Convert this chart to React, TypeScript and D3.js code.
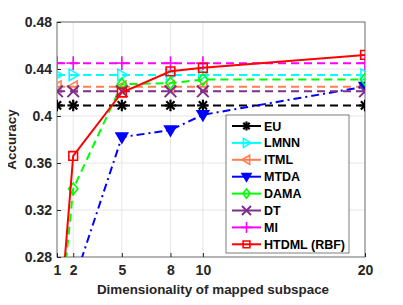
import React, { useEffect, useRef } from "react";
import * as d3 from "d3";

const DIMS = [1, 2, 5, 8, 10, 20];
const X_TICKS = [1, 2, 5, 8, 10, 20];
const Y_TICKS = [0.28, 0.32, 0.36, 0.4, 0.44, 0.48];

const EU = [0.409, 0.409, 0.409, 0.409, 0.409, 0.409];
const LMNN = [0.435, 0.435, 0.435, 0.435, 0.435, 0.435];
const ITML = [0.425, 0.425, 0.425, 0.425, 0.425, 0.425];
const MTDA = [0.22, 0.257, 0.382, 0.388, 0.401, 0.425];
const DAMA = [0.2, 0.338, 0.427, 0.428, 0.431, 0.431];
const DT = [0.421, 0.421, 0.421, 0.421, 0.421, 0.421];
const MI = [0.445, 0.445, 0.445, 0.445, 0.445, 0.445];
const HTDML = [0.197, 0.366, 0.42, 0.438, 0.441, 0.452];

const SERIES = [
  { name: "EU", values: EU, color: "#000000", marker: "star", dash: "8,5" },
  { name: "LMNN", values: LMNN, color: "#00ffff", marker: "tri-right", dash: "8,5" },
  { name: "ITML", values: ITML, color: "#ff7f50", marker: "tri-left", dash: "8,5" },
  { name: "MTDA", values: MTDA, color: "#0000ff", marker: "tri-down", dash: "8,4,2,4" },
  { name: "DAMA", values: DAMA, color: "#00ff00", marker: "diamond", dash: "8,5" },
  { name: "DT", values: DT, color: "#7e2f8e", marker: "x", dash: "8,5" },
  { name: "MI", values: MI, color: "#ff00ff", marker: "plus", dash: "8,5" },
  { name: "HTDML (RBF)", values: HTDML, color: "#ff0000", marker: "square", dash: null },
];

function drawMarker(g, kind, cx, cy, color, s) {
  const m = g.append("g").attr("transform", `translate(${cx},${cy})`);
  const st = (sel) => sel.attr("stroke", color).attr("stroke-width", 1.6);
  if (kind === "star") {
    [0, 45, 90, 135].forEach((a) => {
      const r = (a * Math.PI) / 180;
      st(m.append("line"))
        .attr("x1", -s * Math.cos(r)).attr("y1", -s * Math.sin(r))
        .attr("x2", s * Math.cos(r)).attr("y2", s * Math.sin(r))
        .attr("stroke-width", 2.2);
    });
  } else if (kind === "plus") {
    st(m.append("line")).attr("x1", -s - 1).attr("x2", s + 1).attr("y1", 0).attr("y2", 0);
    st(m.append("line")).attr("y1", -s - 1).attr("y2", s + 1).attr("x1", 0).attr("x2", 0);
  } else if (kind === "x") {
    st(m.append("line")).attr("x1", -s).attr("y1", -s).attr("x2", s).attr("y2", s).attr("stroke-width", 2);
    st(m.append("line")).attr("x1", -s).attr("y1", s).attr("x2", s).attr("y2", -s).attr("stroke-width", 2);
  } else {
    let pts;
    if (kind === "tri-right") pts = [[-s * 0.7, -s], [s, 0], [-s * 0.7, s]];
    else if (kind === "tri-left") pts = [[s * 0.7, -s], [-s, 0], [s * 0.7, s]];
    else if (kind === "tri-down") pts = [[-s, -s * 0.7], [s, -s * 0.7], [0, s]];
    else if (kind === "diamond") pts = [[0, -s], [s * 0.8, 0], [0, s], [-s * 0.8, 0]];
    else pts = [[-s * 0.75, -s * 0.75], [s * 0.75, -s * 0.75], [s * 0.75, s * 0.75], [-s * 0.75, s * 0.75]];
    st(m.append("polygon"))
      .attr("points", pts.map((p) => p.join(",")).join(" "))
      .attr("fill", kind === "tri-down" ? color : "none")
      .attr("stroke-linejoin", "miter");
  }
}

export default function App() {
  const ref = useRef(null);

  useEffect(() => {
    const svg = d3.select(ref.current);
    svg.selectAll("*").remove();

    const margin = { top: 22, right: 38, bottom: 48, left: 57 };
    const width = 403 - margin.left - margin.right;
    const height = 305 - margin.top - margin.bottom;
    const font = "'Liberation Sans', Arial, sans-serif";

    const x = d3.scaleLinear().domain([1, 20]).range([0, width]);
    const y = d3.scaleLinear().domain([0.28, 0.48]).range([height, 0]);

    const g = svg.append("g").attr("transform", `translate(${margin.left},${margin.top})`);

    // grid
    g.append("g")
      .selectAll("line")
      .data(X_TICKS)
      .enter()
      .append("line")
      .attr("x1", (d) => x(d)).attr("x2", (d) => x(d))
      .attr("y1", 0).attr("y2", height)
      .attr("stroke", "#e6e6e6");
    g.append("g")
      .selectAll("line")
      .data(Y_TICKS)
      .enter()
      .append("line")
      .attr("y1", (d) => y(d)).attr("y2", (d) => y(d))
      .attr("x1", 0).attr("x2", width)
      .attr("stroke", "#e6e6e6");

    // axes
    const xAxis = g.append("g")
      .attr("transform", `translate(0,${height})`)
      .call(d3.axisBottom(x).tickValues(X_TICKS).tickSize(-4).tickPadding(8).tickFormat(d3.format("d")));
    const yAxis = g.append("g")
      .call(d3.axisLeft(y).tickValues(Y_TICKS).tickSize(-4).tickPadding(5).tickFormat((d) => String(+d.toFixed(2))));
    [xAxis, yAxis].forEach((a) => {
      a.select(".domain").remove();
      a.selectAll("line").attr("stroke", "#262626");
      a.selectAll("text")
        .attr("font-family", font)
        .attr("font-size", 14)
        .attr("font-weight", "bold")
        .attr("fill", "#262626");
    });

    g.append("rect")
      .attr("width", width).attr("height", height)
      .attr("fill", "none").attr("stroke", "#262626").attr("stroke-width", 0.6);

    const clip = svg.append("defs").append("clipPath").attr("id", "plot-clip");
    clip.append("rect").attr("width", width).attr("height", height);

    const plot = g.append("g").attr("clip-path", "url(#plot-clip)");
    const line = d3.line<number>().x((_, i) => x(DIMS[i])).y((d) => y(d));

    SERIES.forEach((s) => {
      plot.append("path")
        .datum(s.values)
        .attr("d", line)
        .attr("fill", "none")
        .attr("stroke", s.color)
        .attr("stroke-width", 2)
        .attr("stroke-dasharray", s.dash);
      s.values.forEach((v, i) => {
        drawMarker(plot, s.marker, x(DIMS[i]), y(v), s.color, 5.8);
      });
    });

    // legend
    const lg = svg.append("g").attr("transform", "translate(226,115)");
    lg.append("rect")
      .attr("width", 123).attr("height", 138)
      .attr("fill", "white").attr("stroke", "#262626").attr("stroke-width", 0.6);
    SERIES.forEach((s, i) => {
      const yy = 11 + i * 16.9;
      lg.append("line")
        .attr("x1", 6).attr("x2", 35).attr("y1", yy).attr("y2", yy)
        .attr("stroke", s.color).attr("stroke-width", 2);
      drawMarker(lg, s.marker, 20.5, yy, s.color, 4.5);
      lg.append("text")
        .attr("x", 38).attr("y", yy)
        .attr("dy", "0.36em")
        .attr("font-family", font)
        .attr("font-size", 12.5)
        .attr("font-weight", "bold")
        .attr("fill", "#000")
        .text(s.name);
    });

    // axis labels
    svg.append("text")
      .attr("x", margin.left + width / 2 + 2)
      .attr("y", 294)
      .attr("text-anchor", "middle")
      .attr("font-family", font)
      .attr("font-size", 13.4)
      .attr("font-weight", "bold")
      .attr("fill", "#262626")
      .text("Dimensionality of mapped subspace");
    svg.append("text")
      .attr("transform", `translate(16,${margin.top + height / 2}) rotate(-90)`)
      .attr("text-anchor", "middle")
      .attr("font-family", font)
      .attr("font-size", 13.4)
      .attr("font-weight", "bold")
      .attr("fill", "#262626")
      .text("Accuracy");
  }, []);

  return (
    <div style={{ margin: -8 }}>
      <svg ref={ref} width={403} height={305} style={{ display: "block" }}></svg>
    </div>
  );
}
